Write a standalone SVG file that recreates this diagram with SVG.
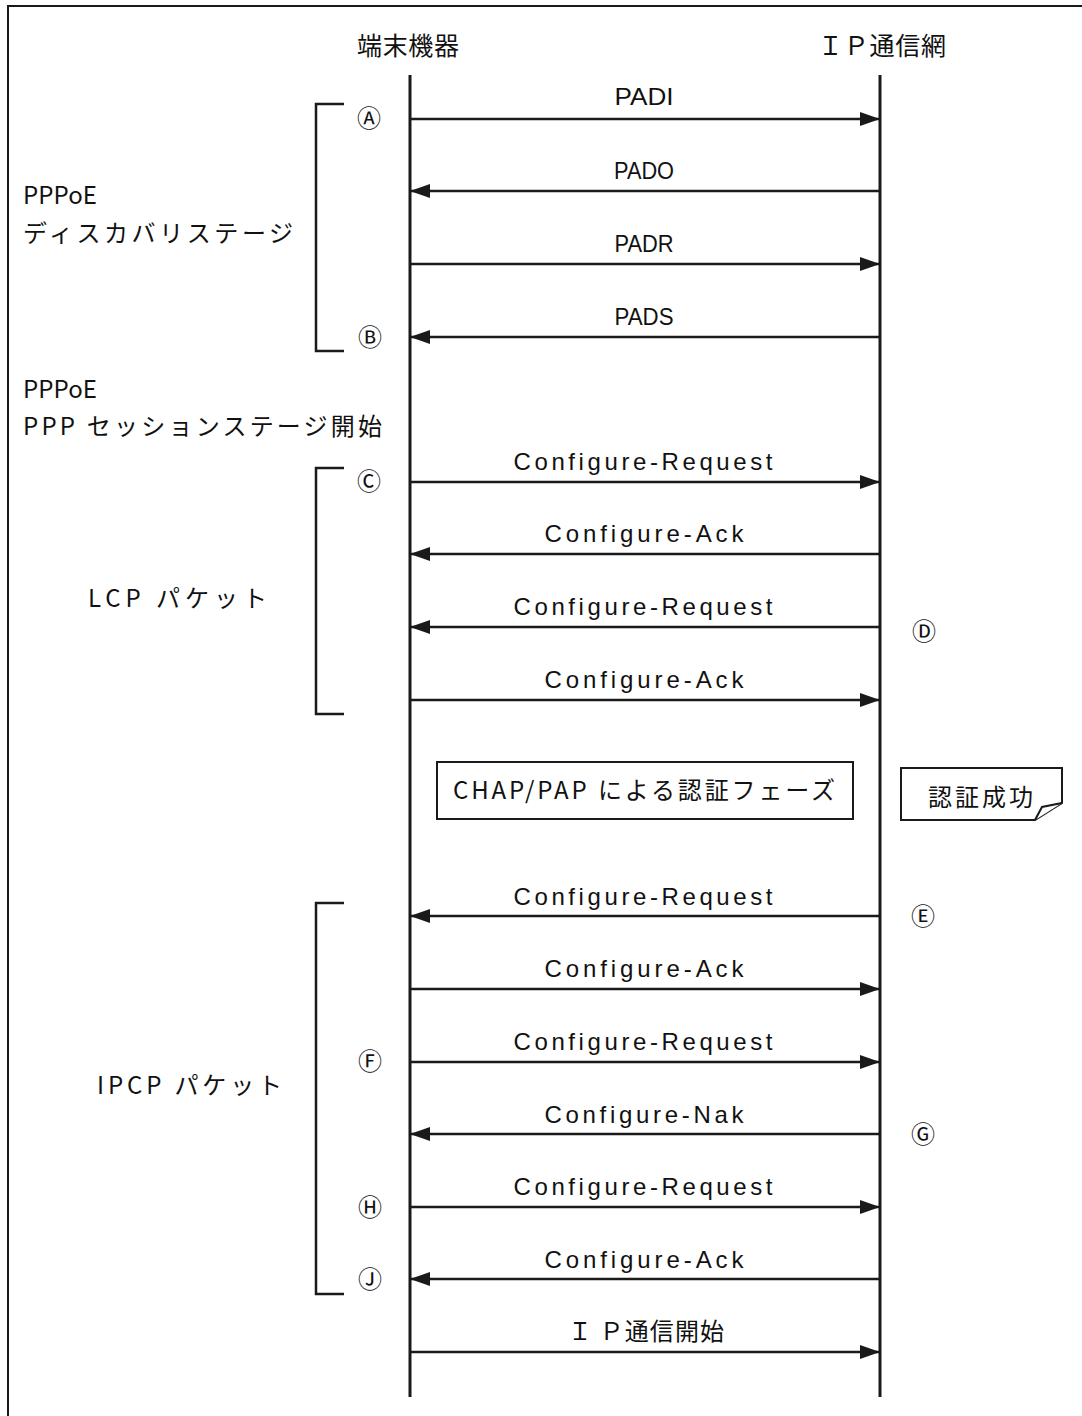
<svg xmlns="http://www.w3.org/2000/svg" width="1082" height="1416" viewBox="0 0 1082 1416">
<defs>
<style>
.life{stroke:#1a1a1a;stroke-width:3;fill:none}
.msg{stroke:#1a1a1a;stroke-width:2.5;fill:none}
.br{stroke:#1a1a1a;stroke-width:2.5;fill:none}
.frame{stroke:#1a1a1a;stroke-width:2;fill:none}
.box{stroke:#1a1a1a;stroke-width:2;fill:#fff}
.lbl{font-family:"Liberation Sans","Noto Sans CJK JP",sans-serif;font-size:24px;fill:#111;text-anchor:middle}
.jp{font-family:"Noto Sans CJK JP",sans-serif;font-size:24px;fill:#111}
.hd{font-family:"Noto Sans CJK JP",sans-serif;font-size:25px;fill:#111}
.cl{font-family:"Noto Sans CJK JP",serif;font-size:24px;fill:#111;text-anchor:middle}
</style>
<marker id="ah" viewBox="0 0 20 14" refX="20" refY="7" markerWidth="20" markerHeight="14" markerUnits="userSpaceOnUse" orient="auto">
<path d="M0,0 L20,7 L0,14 Z" fill="#1a1a1a"/>
</marker>
</defs>
<rect width="1082" height="1416" fill="#fff"/>
<path class="frame" d="M8,1416 V6 H1082"/>

<g id="lifelines">
<g id="terminal">
<text class="hd" x="357" y="55" textLength="102">端末機器</text>
<line class="life" x1="410" y1="75" x2="410" y2="1397"/>
</g>
<g id="ipnet">
<text class="hd" x="818" y="55" textLength="128">ＩＰ通信網</text>
<line class="life" x1="880" y1="75" x2="880" y2="1397"/>
</g>
</g>

<g id="stages">
<g id="discovery">
<path class="br" d="M344,104 H316 V351 H344"/>
<text class="jp" x="23" y="204" textLength="74">PPPoE</text>
<text class="jp" x="23" y="242" textLength="270">ディスカバリステージ</text>
</g>
<g id="session">
<text class="jp" x="23" y="398" textLength="74">PPPoE</text>
<text class="jp" x="23" y="435" textLength="359">PPP セッションステージ開始</text>
</g>
<g id="lcp">
<path class="br" d="M344,468 H316 V714 H344"/>
<text class="jp" x="88" y="607" textLength="179">LCP パケット</text>
</g>
<g id="ipcp">
<path class="br" d="M344,903 H316 V1294 H344"/>
<text class="jp" x="97" y="1094" textLength="185">IPCP パケット</text>
</g>
</g>

<g id="auth">
<rect class="box" x="437" y="762" width="416" height="57"/>
<text class="jp" x="453" y="799" textLength="382">CHAP/PAP による認証フェーズ</text>
</g>
<g id="auth-ok">
<path class="box" d="M901,768 H1062 V803 L1035,820 H901 Z"/>
<path class="box" d="M1035,820 L1042,807 L1062,803" fill="none"/>
<text class="jp" x="928" y="806" textLength="105">認証成功</text>
</g>

<g id="connectors">
<line class="msg" x1="410" y1="119" x2="880" y2="119" marker-end="url(#ah)"/>
<line class="msg" x1="880" y1="191" x2="410" y2="191" marker-end="url(#ah)"/>
<line class="msg" x1="410" y1="264" x2="880" y2="264" marker-end="url(#ah)"/>
<line class="msg" x1="880" y1="337" x2="410" y2="337" marker-end="url(#ah)"/>
<line class="msg" x1="410" y1="482" x2="880" y2="482" marker-end="url(#ah)"/>
<line class="msg" x1="880" y1="554" x2="410" y2="554" marker-end="url(#ah)"/>
<line class="msg" x1="880" y1="627" x2="410" y2="627" marker-end="url(#ah)"/>
<line class="msg" x1="410" y1="700" x2="880" y2="700" marker-end="url(#ah)"/>
<line class="msg" x1="880" y1="916" x2="410" y2="916" marker-end="url(#ah)"/>
<line class="msg" x1="410" y1="989" x2="880" y2="989" marker-end="url(#ah)"/>
<line class="msg" x1="410" y1="1062" x2="880" y2="1062" marker-end="url(#ah)"/>
<line class="msg" x1="880" y1="1134" x2="410" y2="1134" marker-end="url(#ah)"/>
<line class="msg" x1="410" y1="1207" x2="880" y2="1207" marker-end="url(#ah)"/>
<line class="msg" x1="880" y1="1279" x2="410" y2="1279" marker-end="url(#ah)"/>
<line class="msg" x1="410" y1="1352" x2="880" y2="1352" marker-end="url(#ah)"/>
</g>

<g id="labels">
<text class="lbl" x="644" y="105" textLength="59" lengthAdjust="spacingAndGlyphs">PADI</text>
<text class="lbl" x="644" y="179" textLength="60" lengthAdjust="spacingAndGlyphs">PADO</text>
<text class="lbl" x="644" y="252" textLength="59" lengthAdjust="spacingAndGlyphs">PADR</text>
<text class="lbl" x="644" y="325" textLength="59" lengthAdjust="spacingAndGlyphs">PADS</text>
<text class="lbl" x="643" y="470" textLength="259">Configure-Request</text>
<text class="lbl" x="644" y="542" textLength="199">Configure-Ack</text>
<text class="lbl" x="643" y="615" textLength="259">Configure-Request</text>
<text class="lbl" x="644" y="688" textLength="199">Configure-Ack</text>
<text class="lbl" x="643" y="905" textLength="259">Configure-Request</text>
<text class="lbl" x="644" y="977" textLength="199">Configure-Ack</text>
<text class="lbl" x="643" y="1050" textLength="259">Configure-Request</text>
<text class="lbl" x="644" y="1123" textLength="199">Configure-Nak</text>
<text class="lbl" x="643" y="1195" textLength="259">Configure-Request</text>
<text class="lbl" x="644" y="1268" textLength="199">Configure-Ack</text>
<text class="jp" x="568" y="1340" textLength="156">Ｉ Ｐ通信開始</text>
</g>

<g id="markers">
<text class="cl" x="369" y="127">Ⓐ</text>
<text class="cl" x="370" y="346">Ⓑ</text>
<text class="cl" x="369" y="490">Ⓒ</text>
<text class="cl" x="924" y="640">Ⓓ</text>
<text class="cl" x="923" y="925">Ⓔ</text>
<text class="cl" x="370" y="1070">Ⓕ</text>
<text class="cl" x="923" y="1143">Ⓖ</text>
<text class="cl" x="370" y="1216">Ⓗ</text>
<text class="cl" x="370" y="1288">Ⓙ</text>
</g>
</svg>
